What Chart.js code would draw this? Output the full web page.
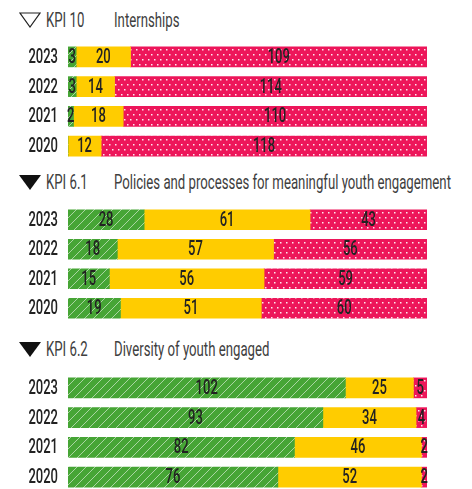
<!DOCTYPE html>
<html>
<head>
<meta charset="utf-8">
<script src="https://cdn.jsdelivr.net/npm/chart.js@4.4.1/dist/chart.umd.min.js"></script>
<style>
    body { margin: 0; width: 472px; height: 489px; overflow: hidden; background: #fff; position: relative; }
    canvas { position: absolute; left: 0; }
    .head { position: absolute; left: 0; height: 24px; width: 472px; font-family: Roboto, sans-serif; font-size: 20px; line-height: 24px; color: #404040; }
    .head svg { position: absolute; left: 19px; top: 4px; }
    .head span { position: absolute; top: 0; transform: scaleX(0.66); transform-origin: left center; white-space: nowrap; }
    .head .kpi { left: 46px; }
    .head .name { left: 114px; }
</style>
</head>
<body>
<div class="head" style="top: 8px;">
    <svg width="22" height="16"><polygon points="1,1 21,1 11,15" fill="none" stroke="#222" stroke-width="1.2"/></svg>
    <span class="kpi">KPI 10</span><span class="name">Internships</span>
</div>
<canvas id="internshipsChart" width="472" height="119" style="top: 42px;"></canvas>

<div class="head" style="top: 170px;">
    <svg width="22" height="16"><polygon points="0,1 22,1 11,16" fill="#111"/></svg>
    <span class="kpi">KPI 6.1</span><span class="name">Policies and processes for meaningful youth engagement</span>
</div>
<canvas id="policiesChart" width="472" height="118" style="top: 205px;"></canvas>

<div class="head" style="top: 337px;">
    <svg width="22" height="16"><polygon points="0,1 22,1 11,16" fill="#111"/></svg>
    <span class="kpi">KPI 6.2</span><span class="name">Diversity of youth engaged</span>
</div>
<canvas id="diversityChart" width="472" height="119" style="top: 373px;"></canvas>

<script>
// Data
const years = ["2023", "2022", "2021", "2020"];

const internshipsGreen = [3, 3, 2, 0];
const internshipsYellow = [20, 14, 18, 12];
const internshipsRed = [109, 114, 110, 118];

const policiesGreen = [28, 18, 15, 19];
const policiesYellow = [61, 57, 56, 51];
const policiesRed = [43, 56, 59, 60];

const diversityGreen = [102, 93, 82, 76];
const diversityYellow = [25, 34, 46, 52];
const diversityRed = [5, 4, 2, 2];

const FONT = "500 20px Roboto, sans-serif";
const SQUEEZE = 0.65; // narrow the text like a condensed face

// Green with thin white diagonal hatch
function hatchPattern() {
    const s = 9;
    const c = document.createElement("canvas");
    c.width = s; c.height = s;
    const ctx = c.getContext("2d");
    ctx.fillStyle = "#46a535";
    ctx.fillRect(0, 0, s, s);
    ctx.strokeStyle = "rgba(255,255,255,0.6)";
    ctx.lineWidth = 0.9;
    ctx.beginPath();
    ctx.moveTo(-1, s + 1); ctx.lineTo(s + 1, -1);
    ctx.moveTo(-s, s); ctx.lineTo(s, -s);
    ctx.moveTo(0, 2 * s); ctx.lineTo(2 * s, 0);
    ctx.stroke();
    return ctx.createPattern(c, "repeat");
}

// Red with small white dots
function dotPattern() {
    const c = document.createElement("canvas");
    c.width = 12; c.height = 10;
    const ctx = c.getContext("2d");
    ctx.fillStyle = "#ed165a";
    ctx.fillRect(0, 0, 12, 10);
    ctx.fillStyle = "rgba(255,255,255,0.9)";
    ctx.fillRect(1, 2, 1.5, 1.5);
    ctx.fillRect(7, 2, 1.5, 1.5);
    ctx.fillRect(4, 7, 1.5, 1.5);
    ctx.fillRect(10, 7, 1.5, 1.5);
    return ctx.createPattern(c, "repeat");
}

const greenFill = hatchPattern();
const redFill = dotPattern();

function squeezedText(ctx, text, x, y) {
    ctx.save();
    ctx.translate(x, y);
    ctx.scale(SQUEEZE, 1);
    ctx.fillText(text, 0, 0);
    ctx.restore();
}

// Year labels at the y scale's ticks, and the raw value in each segment
const textLayer = {
    id: "textLayer",
    afterDatasetsDraw(chart) {
        const ctx = chart.ctx;
        const yScale = chart.scales.y;
        ctx.save();
        ctx.font = FONT;
        ctx.fillStyle = "#222";
        ctx.textBaseline = "middle";

        ctx.textAlign = "right";
        yScale.ticks.forEach((t, i) => {
            squeezedText(ctx, yScale.getLabelForValue(t.value), yScale.right - 10, yScale.getPixelForTick(i) + 1);
        });

        ctx.textAlign = "center";
        chart.data.datasets.forEach((ds, di) => {
            chart.getDatasetMeta(di).data.forEach((bar, i) => {
                const v = ds.raw[i];
                if (!v) return;
                squeezedText(ctx, String(v), (bar.base + bar.x) / 2, bar.y + 1);
            });
        });
        ctx.restore();
    }
};

function makeChart(id, green, yellow, red) {
    const totals = green.map((g, i) => g + yellow[i] + red[i]);
    const pct = arr => arr.map((v, i) => v / totals[i] * 100);
    return new Chart(document.getElementById(id), {
        type: "bar",
        data: {
            labels: years,
            datasets: [
                { data: pct(green), raw: green, backgroundColor: greenFill, barThickness: 20 },
                { data: pct(yellow), raw: yellow, backgroundColor: "#ffcc00", barThickness: 20 },
                { data: pct(red), raw: red, backgroundColor: redFill, barThickness: 20 },
            ],
        },
        options: {
            indexAxis: "y",
            responsive: false,
            animation: false,
            layout: { padding: { left: 0, right: 45, top: 0, bottom: 0 } },
            plugins: { legend: { display: false }, tooltip: { enabled: false } },
            scales: {
                x: { stacked: true, min: 0, max: 100, display: false },
                y: {
                    stacked: true,
                    grid: { display: false, drawTicks: false },
                    border: { display: false },
                    ticks: { display: false },
                    afterFit(scale) { scale.width = 68; },
                },
            },
        },
        plugins: [textLayer],
    });
}

makeChart("internshipsChart", internshipsGreen, internshipsYellow, internshipsRed);
makeChart("policiesChart", policiesGreen, policiesYellow, policiesRed);
makeChart("diversityChart", diversityGreen, diversityYellow, diversityRed);
</script>
</body>
</html>
